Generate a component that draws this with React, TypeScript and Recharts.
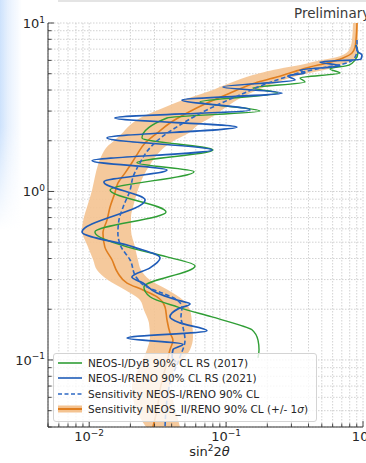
import React from 'react';
import { ComposedChart, Line, Area, XAxis, YAxis, CartesianGrid, Legend } from 'recharts';

// ---- axes ----
const xDomain = [0.005, 1];
const yDomain = [0.04, 10];
const xTicks = [0.005, 0.006, 0.007, 0.008, 0.009, 0.01, 0.02, 0.03, 0.04, 0.05, 0.06, 0.07, 0.08, 0.09, 0.1, 0.2, 0.3, 0.4, 0.5, 0.6, 0.7, 0.8, 0.9, 1];
const yTicks = [0.04, 0.05, 0.06, 0.07, 0.08, 0.09, 0.1, 0.2, 0.3, 0.4, 0.5, 0.6, 0.7, 0.8, 0.9, 1, 2, 3, 4, 5, 6, 7, 8, 9, 10];
const majorExponents: Record<string, string> = { '0.01': '−2', '0.1': '−1', '1': '0', '10': '1' };

// ---- Sensitivity NEOS-II/RENO (central line) ----
const orangeDm2 = [10, 7.93, 7.2, 6.64, 6.2, 5.79, 5.48, 5.12, 4.78, 4.41, 3.84, 3.35, 2.92, 2.55, 2.22, 1.94, 1.69, 1.48, 1.29, 1.12, 0.98, 0.809, 0.678, 0.567, 0.469, 0.392, 0.328, 0.286, 0.26, 0.237, 0.206, 0.173, 0.145, 0.131, 0.115, 0.0973, 0.0664, 0.0505, 0.04];
const orangeSin = [0.904, 0.889, 0.875, 0.831, 0.715, 0.546, 0.41, 0.308, 0.235, 0.163, 0.107, 0.0725, 0.0518, 0.0389, 0.0313, 0.0256, 0.0227, 0.0205, 0.0183, 0.0162, 0.0154, 0.0142, 0.0135, 0.0126, 0.013, 0.0147, 0.0162, 0.0189, 0.0247, 0.0313, 0.0358, 0.037, 0.0389, 0.0409, 0.0389, 0.037, 0.0329, 0.0313, 0.0292];

// ---- +/- 1 sigma band ----
const bandDm2 = [10, 7.93, 6.92, 6.28, 5.95, 5.63, 5.41, 4.91, 4.41, 3.89, 3.49, 3.13, 2.73, 2.48, 2.25, 2.02, 1.84, 1.65, 1.44, 1.22, 1.02, 0.809, 0.706, 0.591, 0.469, 0.392, 0.342, 0.298, 0.26, 0.227, 0.198, 0.166, 0.137, 0.115, 0.0872, 0.0692, 0.0526, 0.04];
const bandLow = [0.845, 0.831, 0.79, 0.646, 0.461, 0.347, 0.26, 0.157, 0.107, 0.0725, 0.0484, 0.0346, 0.0235, 0.0199, 0.0177, 0.0154, 0.0135, 0.0124, 0.0116, 0.011, 0.0105, 0.00964, 0.00916, 0.00886, 0.0098, 0.0107, 0.0114, 0.0137, 0.0183, 0.0235, 0.0251, 0.0273, 0.0278, 0.0264, 0.0227, 0.0205, 0.0216, 0.026];
const bandHigh = [0.919, 0.919, 0.919, 0.904, 0.831, 0.679, 0.594, 0.347, 0.228, 0.157, 0.12, 0.0981, 0.0763, 0.0623, 0.0545, 0.0423, 0.0358, 0.0313, 0.0278, 0.0247, 0.0227, 0.0209, 0.0202, 0.0202, 0.0216, 0.0227, 0.0239, 0.0278, 0.0376, 0.0484, 0.0545, 0.0564, 0.0573, 0.0545, 0.0416, 0.0389, 0.0423, 0.046];

// ---- Sensitivity NEOS-I/RENO (dashed) ----
const dashDm2 = [7.93, 6.92, 6.28, 5.79, 5.48, 5.12, 4.72, 4.29, 3.74, 3.26, 2.84, 2.48, 2.11, 1.76, 1.48, 1.22, 1.02, 0.809, 0.678, 0.567, 0.469, 0.392, 0.311, 0.271, 0.25, 0.227, 0.206, 0.18, 0.157, 0.131, 0.104, 0.073, 0.0579, 0.04];
const dashSin = [0.904, 0.904, 0.875, 0.764, 0.546, 0.3645, 0.2604, 0.1861, 0.1264, 0.0858, 0.0613, 0.046, 0.034, 0.0269, 0.0235, 0.0209, 0.0199, 0.0177, 0.0165, 0.0162, 0.0171, 0.0199, 0.022, 0.0264, 0.034, 0.0438, 0.0476, 0.0468, 0.0484, 0.0501, 0.046, 0.0389, 0.037, 0.0358];

// ---- NEOS-I/RENO 90% CL RS (2021) ----
const blueDm2 = [7.4, 6.73, 6.46, 6.11, 5.87, 5.56, 5.26, 5.05, 4.85, 4.59, 4.17, 3.84, 3.49, 3.05, 2.73, 2.41, 2.08, 1.76, 1.52, 1.34, 1.14, 0.89, 0.575, 0.469, 0.403, 0.352, 0.311, 0.286, 0.25, 0.227, 0.215, 0.201, 0.18, 0.166, 0.149, 0.135, 0.124, 0.115, 0.104, 0.0973];
const blueSin = [0.889, 0.919, 0.983, 0.967, 0.485, 0.679, 0.347, 0.377, 0.283, 0.319, 0.0949, 0.256, 0.0476, 0.1495, 0.0154, 0.12, 0.0135, 0.0789, 0.0105, 0.037, 0.0128, 0.0256, 0.00886, 0.0209, 0.0329, 0.0278, 0.0205, 0.0247, 0.0313, 0.0438, 0.0545, 0.0445, 0.0389, 0.046, 0.0725, 0.0189, 0.0484, 0.0409, 0.0403, 0.0431];

// ---- NEOS-I/DyB 90% CL RS (2017) ----
const greenDm2 = [7.4, 6.64, 6.03, 5.63, 5.33, 5.05, 4.72, 4.47, 4.11, 3.84, 3.4, 3.0, 2.73, 2.08, 1.76, 1.48, 1.31, 1.02, 0.756, 0.575, 0.469, 0.409, 0.361, 0.271, 0.237, 0.206, 0.18, 0.161, 0.151, 0.131, 0.115, 0.103];
const greenSin = [0.889, 0.919, 0.875, 0.79, 0.574, 0.679, 0.347, 0.377, 0.157, 0.239, 0.0645, 0.177, 0.037, 0.0243, 0.0802, 0.0223, 0.0583, 0.0142, 0.0364, 0.011, 0.0189, 0.037, 0.0593, 0.0251, 0.0278, 0.0445, 0.0789, 0.126, 0.1545, 0.171, 0.174, 0.171];

const legendLabels = [
  'NEOS-I/DyB 90% CL RS (2017)',
  'NEOS-I/RENO 90% CL RS (2021)',
  'Sensitivity NEOS-I/RENO 90% CL',
  'Sensitivity NEOS_II/RENO 90% CL (+/- 1',
];

const GREEN = '#2f9e35';
const BLUE = '#1f5cb8';
const DASH = '#2c68c4';
const ORANGE = '#e07e1f';
const BAND = '#f4c391';
const TEXT = '#262626';
const FRAME = '#333333';
const FONT = '"DejaVu Sans", sans-serif';

const toPts = (ys: number[], xs: number[]) => ys.map((d, i) => ({ dm2: d, s: xs[i] }));
const orangeData = toPts(orangeDm2, orangeSin);
const dashData = toPts(dashDm2, dashSin);
const blueData = toPts(blueDm2, blueSin);
const greenData = toPts(greenDm2, greenSin);
const bandData = bandDm2.map((d, i) => ({ dm2: d, range: [bandLow[i], bandHigh[i]] }));

const Label10 = ({ x, y, exp, anchor }: any) => (
  <text x={x} y={y} textAnchor={anchor} fontSize={13} fill={TEXT} fontFamily={FONT}>
    10<tspan dy={-5.5} fontSize={9}>{exp}</tspan>
  </text>
);

const BottomTick = (props: any) => {
  const { x, y, payload } = props;
  const exp = majorExponents[String(payload.value)];
  const len = exp ? 6 : 3.5;
  return (
    <g>
      <line x1={x} x2={x} y1={y} y2={y - len} stroke={FRAME} strokeWidth={0.9} />
      {exp && <Label10 x={x} y={y + 14} exp={exp} anchor="middle" />}
    </g>
  );
};
const TopTick = (props: any) => {
  const { x, y, payload } = props;
  const len = majorExponents[String(payload.value)] ? 6 : 3.5;
  return <line x1={x} x2={x} y1={y} y2={y + len} stroke={FRAME} strokeWidth={0.9} />;
};
const LeftTick = (props: any) => {
  const { x, y, payload } = props;
  const exp = majorExponents[String(payload.value)];
  const len = exp ? 6 : 3.5;
  return (
    <g>
      <line x1={x} x2={x + len} y1={y} y2={y} stroke={FRAME} strokeWidth={0.9} />
      {exp && <Label10 x={x - 3} y={y + 5} exp={exp} anchor="end" />}
    </g>
  );
};
const RightTick = (props: any) => {
  const { x, y, payload } = props;
  const len = majorExponents[String(payload.value)] ? 6 : 3.5;
  return <line x1={x} x2={x - len} y1={y} y2={y} stroke={FRAME} strokeWidth={0.9} />;
};

const XLabel = (props: any) => {
  const vb = props.viewBox || { x: 48, y: 427, width: 315 };
  return (
    <text x={vb.x + vb.width / 2 + 4} y={vb.y + 29} textAnchor="middle" fontSize={13} fill={TEXT} fontFamily={FONT}>
      sin<tspan dy={-5} fontSize={9}>2</tspan><tspan dy={5}>2</tspan><tspan fontStyle="italic">θ</tspan>
    </text>
  );
};

const LegendIcon = ({ i }: { i: number }) => (
  <svg width={24} height={10} style={{ position: 'absolute', left: 4, top: -5 }}>
    {i === 3 && <rect x={0} y={1.5} width={24} height={7} fill={BAND} />}
    <line
      x1={0}
      x2={24}
      y1={5}
      y2={5}
      stroke={[GREEN, BLUE, DASH, ORANGE][i]}
      strokeWidth={i === 3 ? 2 : 1.6}
      strokeDasharray={i === 2 ? '4 2.5' : undefined}
    />
  </svg>
);

const LegendBox = () => (
  <div
    style={{
      position: 'relative',
      width: 264,
      height: 69,
      boxSizing: 'border-box',
      border: '1px solid #d4d4d4',
      borderRadius: 3,
      background: 'rgba(255,255,255,0.8)',
      fontFamily: FONT,
      fontSize: 10.5,
      color: TEXT,
    }}
  >
    {legendLabels.map((t, i) => (
      <div key={i} style={{ position: 'absolute', left: 0, top: 9 + i * 15.4, width: '100%' }}>
        <LegendIcon i={i} />
        <div style={{ position: 'absolute', left: 34, top: -7, lineHeight: '14px', whiteSpace: 'nowrap' }}>
          {t}
          {i === 3 && (
            <>
              <span style={{ fontStyle: 'italic' }}>σ</span>)
            </>
          )}
        </div>
      </div>
    ))}
  </div>
);

export default function App() {
  return (
    <div style={{ position: 'fixed', left: 0, top: 0, width: 366, height: 463, background: '#ffffff', overflow: 'hidden' }}>
      <div
        style={{
          position: 'absolute',
          left: 0,
          top: 0,
          width: 24,
          height: 230,
          background: 'linear-gradient(to right, rgba(205,226,252,1) 0px, rgba(225,237,253,0.8) 8px, rgba(255,255,255,0) 22px)',
          WebkitMaskImage: 'linear-gradient(to bottom, black 55%, transparent 100%)',
          maskImage: 'linear-gradient(to bottom, black 55%, transparent 100%)',
        }}
      />
      <div style={{ position: 'absolute', left: 58, top: 0, width: 308, height: 2, background: '#e4e4e4' }} />
      <div
        style={{
          position: 'absolute',
          left: 294,
          top: 4,
          fontFamily: FONT,
          fontSize: 13.5,
          color: '#3a3a3a',
          whiteSpace: 'nowrap',
          lineHeight: '18px',
        }}
      >
        Preliminary
      </div>
      <ComposedChart width={366} height={463} layout="vertical" margin={{ top: 23, right: 3, bottom: 0, left: 0 }}>
        <CartesianGrid stroke="#c6c6c6" strokeDasharray="1.5 1.5" strokeWidth={0.8} />
        <XAxis
          type="number"
          scale="log"
          domain={xDomain}
          ticks={xTicks}
          interval={0}
          allowDataOverflow
          height={36}
          tickSize={0}
          tickMargin={0}
          tickLine={false}
          tick={BottomTick}
          axisLine={{ stroke: FRAME, strokeWidth: 1 }}
          label={<XLabel />}
        />
        <XAxis
          xAxisId="top"
          orientation="top"
          type="number"
          scale="log"
          domain={xDomain}
          ticks={xTicks}
          interval={0}
          allowDataOverflow
          height={0}
          tickSize={0}
          tickMargin={0}
          tickLine={false}
          tick={TopTick}
          axisLine={{ stroke: FRAME, strokeWidth: 1 }}
        />
        <YAxis
          type="number"
          dataKey="dm2"
          scale="log"
          domain={yDomain}
          ticks={yTicks}
          interval={0}
          allowDataOverflow
          reversed
          width={48}
          tickSize={0}
          tickMargin={0}
          tickLine={false}
          tick={LeftTick}
          axisLine={{ stroke: FRAME, strokeWidth: 1 }}
        />
        <YAxis
          yAxisId="right"
          orientation="right"
          type="number"
          scale="log"
          domain={yDomain}
          ticks={yTicks}
          interval={0}
          allowDataOverflow
          reversed
          width={0}
          tickSize={0}
          tickMargin={0}
          tickLine={false}
          tick={RightTick}
          axisLine={{ stroke: FRAME, strokeWidth: 1 }}
        />
        <Area
          data={bandData}
          dataKey="range"
          type="monotone"
          fill={BAND}
          fillOpacity={0.9}
          stroke="none"
          isAnimationActive={false}
          legendType="none"
        />
        <Line data={orangeData} dataKey="s" type="monotone" stroke={ORANGE} strokeWidth={1.6} dot={false} isAnimationActive={false} />
        <Line data={greenData} dataKey="s" type="monotone" stroke={GREEN} strokeWidth={1.4} dot={false} isAnimationActive={false} />
        <Line data={blueData} dataKey="s" type="monotone" stroke={BLUE} strokeWidth={1.7} dot={false} isAnimationActive={false} />
        <Line data={dashData} dataKey="s" type="monotone" stroke={DASH} strokeWidth={1.6} strokeDasharray="4.5 2.5" dot={false} isAnimationActive={false} />
        <Legend
          layout="vertical"
          align="center"
          verticalAlign="middle"
          wrapperStyle={{ left: 53, top: 353, width: 264, height: 69 }}
          content={() => <LegendBox />}
        />
      </ComposedChart>
    </div>
  );
}
